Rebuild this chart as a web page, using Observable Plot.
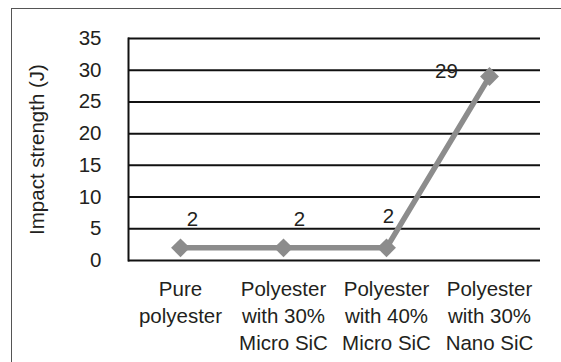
<!DOCTYPE html>
<html>
<head>
<meta charset="utf-8">
<script src="https://cdn.jsdelivr.net/npm/d3@7"></script>
<script src="https://cdn.jsdelivr.net/npm/@observablehq/plot@0.6"></script>
<style>
  html, body { margin: 0; padding: 0; background: #fff; overflow: hidden; }
  #wrap { position: relative; width: 561px; height: 362px; overflow: hidden; }
  #border { position: absolute; left: 11px; top: 8px; width: 600px; height: 400px; border: 1.5px solid #555; box-sizing: border-box; }
  #chart { position: absolute; left: 0; top: 0; }
</style>
</head>
<body>
<div id="wrap">
  <div id="border"></div>
  <div id="chart"></div>
</div>
<script>
const categories = [
  "Pure\npolyester",
  "Polyester\nwith 30%\nMicro SiC",
  "Polyester\nwith 40%\nMicro SiC",
  "Polyester\nwith 30%\nNano SiC"
];
const values = [2, 2, 2, 29];
const yTicks = [0, 5, 10, 15, 20, 25, 30, 35];
const labelDx = [12, 16, 2, -43];
const labelDy = [-28, -28, -31, -5];

const data = categories.map((c, i) => ({cat: c, v: values[i], dx: labelDx[i], dy: labelDy[i]}));
const FS = 20.5;

const chart = Plot.plot({
  width: 561,
  height: 362,
  marginLeft: 128,
  marginRight: 21,
  marginTop: 38,
  marginBottom: 102,
  style: {fontFamily: "'Liberation Sans', Arial, sans-serif", fontSize: FS + "px", color: "#231f20", background: "transparent"},
  x: {type: "point", domain: categories, padding: 0.5, label: null},
  y: {domain: [0, 35], ticks: yTicks, label: null},
  marks: [
    Plot.ruleY(yTicks, {stroke: "#111", strokeWidth: 2}),
    Plot.frame({anchor: "left", stroke: "#111", strokeWidth: 2}),
    Plot.axisY({ticks: yTicks, tickSize: 0, tickPadding: 27, fontSize: FS, label: null}),
    Plot.axisX({tickSize: 0, tickPadding: 16, fontSize: FS, lineHeight: 1.32, label: null}),
    Plot.text(["Impact strength (J)"], {frameAnchor: "left", textAnchor: "middle", rotate: -90, dx: -91, fontSize: FS, fill: "#231f20"}),
    Plot.line(data, {x: "cat", y: "v", stroke: "#8c8c8c", strokeWidth: 5.5}),
    Plot.dot(data, {x: "cat", y: "v", symbol: "diamond2", r: 8.5, fill: "#8c8c8c", stroke: "none"}),
    ...data.map(d => Plot.text([d], {x: "cat", y: "v", text: dd => String(dd.v), dx: d.dx, dy: d.dy, fontSize: FS, fill: "#231f20"}))
  ]
});
document.getElementById("chart").appendChild(chart);
</script>
</body>
</html>
